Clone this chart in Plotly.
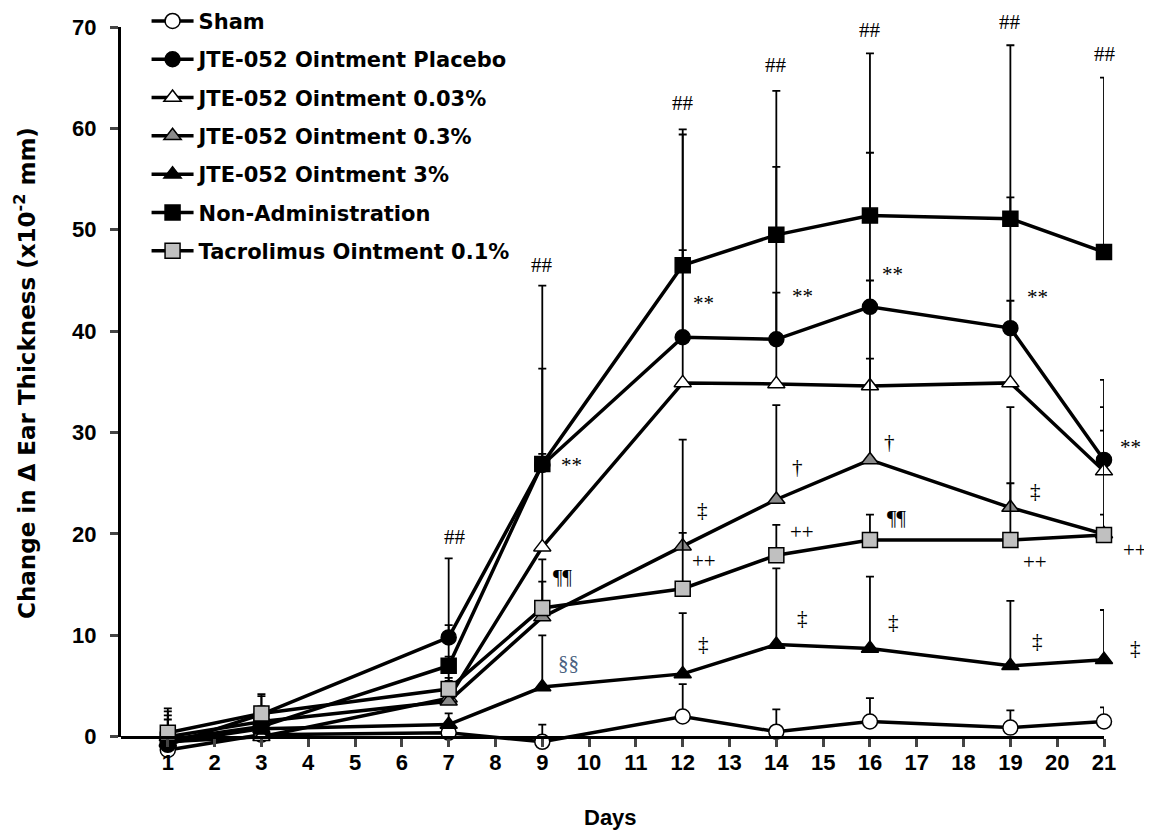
import plotly.graph_objects as go

days = [1, 3, 7, 9, 12, 14, 16, 19, 21]

sham = [-1.3, 0.2, 0.4, -0.5, 2.0, 0.5, 1.5, 0.9, 1.5]
sham_err = [1.5, 1.0, 0.8, 1.7, 3.2, 2.2, 2.3, 1.7, 1.4]

placebo = [-0.8, 2.2, 9.8, 26.8, 39.4, 39.2, 42.4, 40.3, 27.3]
placebo_err = [2.9, 1.8, 7.8, 9.5, 20.0, 17.0, 15.2, 12.9, 7.9]

jte003 = [-0.5, 0.0, 3.8, 18.7, 34.9, 34.8, 34.6, 34.9, 26.2]
jte003_err = [1.5, 1.2, 2.0, 9.2, 13.1, 9.0, 10.4, 8.1, 6.3]

jte03 = [0.0, 1.5, 3.5, 11.8, 18.8, 23.4, 27.3, 22.6, 20.0]
jte03_err = [1.7, 1.5, 2.0, 3.5, 10.5, 9.3, 10.0, 9.9, 10.2]

jte3 = [-0.6, 0.8, 1.2, 4.9, 6.2, 9.1, 8.7, 7.0, 7.6]
jte3_err = [1.5, 1.2, 1.1, 5.1, 6.0, 7.5, 7.1, 6.4, 4.9]

nonadmin = [-0.3, 1.0, 7.0, 26.9, 46.5, 49.5, 51.4, 51.1, 47.8]
nonadmin_err = [2.8, 1.6, 4.0, 17.6, 13.4, 14.2, 16.0, 17.1, 17.2]

tacro = [0.4, 2.3, 4.7, 12.7, 14.6, 17.9, 19.4, 19.4, 19.9]
tacro_err = [2.4, 1.9, 3.2, 4.8, 5.5, 3.0, 2.5, 5.6, 2.0]

names = ["Sham", "JTE-052 Ointment Placebo", "JTE-052 Ointment 0.03%",
         "JTE-052 Ointment 0.3%", "JTE-052 Ointment 3%", "Non-Administration",
         "Tacrolimus Ointment 0.1%"]
series = [sham, placebo, jte003, jte03, jte3, nonadmin, tacro]
errors = [sham_err, placebo_err, jte003_err, jte03_err, jte3_err, nonadmin_err, tacro_err]
symbols = ["circle", "circle", "triangle-up", "triangle-up", "triangle-up", "square", "square"]
fills = ["white", "black", "white", "#8a8a8a", "black", "black", "#c0c0c0"]

x_ticks = list(range(1, 22))
y_ticks = list(range(0, 71, 10))
X_MAX = 21
Y_MIN, Y_MAX = -1.8, 70

# significance marks: (text, day position, value position)
marks = [
    ("##", 7.13, 19.7), ("##", 9.0, 46.5), ("##", 12.0, 62.5), ("##", 14.0, 66.3),
    ("##", 16.0, 69.7), ("##", 19.0, 70.5), ("##", 21.03, 67.3),
    ("**", 9.63, 26.8), ("**", 12.45, 42.8), ("**", 14.55, 43.5), ("**", 16.49, 45.6),
    ("**", 19.57, 43.4), ("**", 21.56, 28.6),
    ("¶¶", 9.44, 15.8), ("¶¶", 16.58, 21.6),
    ("‡", 12.43, 22.4), ("‡", 19.53, 24.2),
    ("†", 14.46, 26.6), ("†", 16.41, 29.1),
    ("++", 12.45, 17.3), ("++", 14.55, 20.2), ("++", 19.53, 17.2), ("++", 21.66, 18.4),
    ("‡", 12.45, 9.1), ("‡", 14.55, 11.7), ("‡", 16.51, 11.3), ("‡", 19.59, 9.4), ("‡", 21.68, 8.8),
    ("§§", 9.57, 7.3),
]

fig = go.Figure()
for i, (name, ys, err, sym, fc) in enumerate(zip(names, series, errors, symbols, fills)):
    fig.add_trace(go.Scatter(
        x=days, y=ys, name=name, mode="lines+markers",
        line=dict(color="black", width=3.5),
        marker=dict(symbol=sym, size=15, color=fc, line=dict(color="black", width=1.5)),
        error_y=dict(type="data", symmetric=False, array=err, arrayminus=[0] * len(err),
                     color="black", thickness=1.8, width=4),
        legendgroup=f"g{i}", cliponaxis=False,
    ))
# empty trace that carries the visible value axis (0-70)
fig.add_trace(go.Scatter(x=[None], y=[None], xaxis="x", yaxis="y2", showlegend=False,
                         hoverinfo="skip"))

zero_pos = (0 - Y_MIN) / (Y_MAX - Y_MIN)

ann = []
for t, xd, yv in marks:
    ann.append(dict(x=xd / X_MAX, y=(yv - Y_MIN) / (Y_MAX - Y_MIN), xref="paper", yref="paper",
                    xanchor="center", yanchor="middle", text=t, showarrow=False,
                    font=dict(family="Liberation Serif", size=21,
                              color="#4a5f80" if t == "§§" else "black")))
ann.append(dict(x=-0.0975, y=0.525, xref="paper", yref="paper", textangle=-90,
                xanchor="center", yanchor="middle",
                text="Change in Δ Ear Thickness (x10<sup>-2</sup> mm)", showarrow=False,
                font=dict(family="DejaVu Sans", size=23, color="black", weight="bold")))
ann.append(dict(x=0.4975, y=-0.086, xref="paper", yref="paper", text="Days", showarrow=False,
                xanchor="center", yanchor="middle",
                font=dict(family="Liberation Sans", size=22, color="black", weight="bold")))

fig.update_layout(
    width=1144, height=829,
    margin=dict(l=113, r=48, t=19, b=81.7, autoexpand=False),
    plot_bgcolor="rgba(0,0,0,0)", paper_bgcolor="white",
    showlegend=True,
    legend=dict(x=0.026, y=1.036, xanchor="left", yanchor="top", bgcolor="rgba(0,0,0,0)",
                font=dict(family="DejaVu Sans", size=21, color="black", weight="bold"),
                traceorder="grouped", tracegroupgap=8, itemwidth=42),
    annotations=ann,
    xaxis=dict(range=[0, X_MAX], tickvals=x_ticks, ticks="outside", ticklen=8, tickwidth=3,
               showline=True, linewidth=3, linecolor="black", showgrid=False, zeroline=False,
               anchor="free", position=zero_pos, ticklabelstandoff=-3,
               tickfont=dict(family="Liberation Sans", size=22, color="black", weight="bold")),
    yaxis=dict(range=[Y_MIN, Y_MAX], domain=[0, 1], visible=False, showgrid=False,
               zeroline=False),
    yaxis2=dict(range=[0, Y_MAX], domain=[zero_pos, 1], anchor="x", tickvals=y_ticks,
                ticks="outside", ticklen=8, tickwidth=3, showline=True, linewidth=3,
                linecolor="black", showgrid=False, zeroline=False, ticklabelstandoff=9,
                tickfont=dict(family="Liberation Sans", size=22, color="black", weight="bold")),
)

fig.write_html("out.html")
